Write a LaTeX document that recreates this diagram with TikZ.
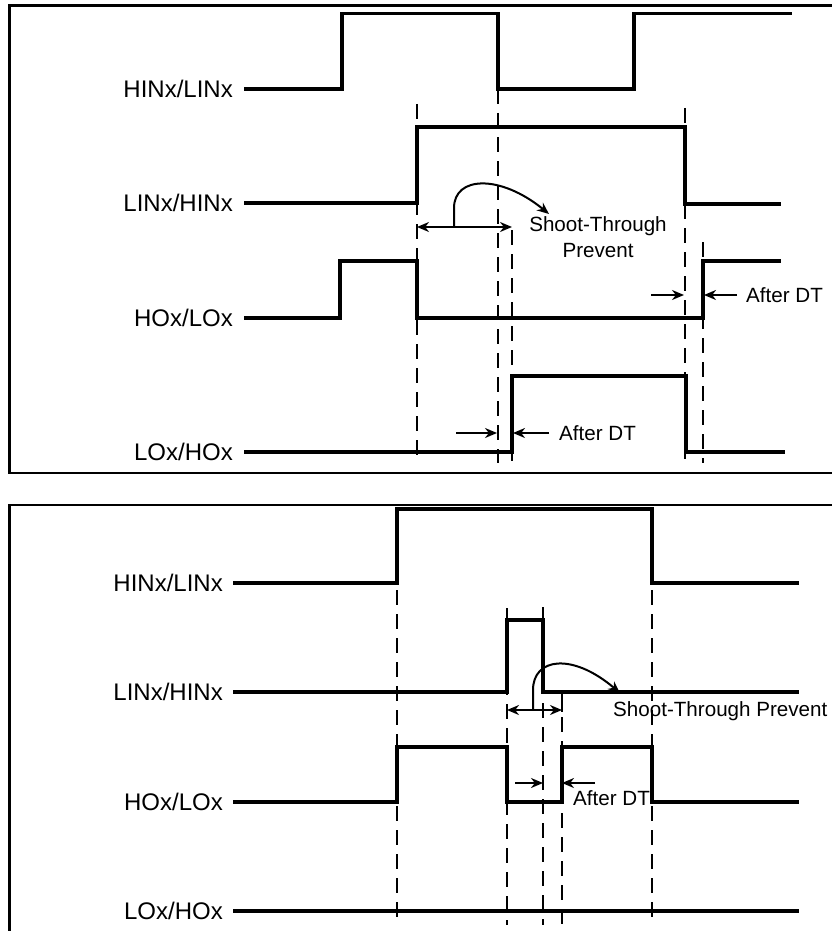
\documentclass[tikz,border=0pt]{standalone}
\usepackage{fontspec}
\setmainfont{Liberation Sans}
\usetikzlibrary{arrows.meta}
\tikzset{
  sig/.style={line width=3.8pt, line join=miter},
  frame/.style={line width=2.8pt},
  guide/.style={line width=2.1pt, dash pattern=on 15pt off 9pt},
  dim/.style={line width=2pt},
  tipR/.style={-{Stealth[length=12pt,width=10pt]}},
  tipLR/.style={{Stealth[length=12pt,width=10pt]}-{Stealth[length=12pt,width=10pt]}},
  lbl/.style={font=\fontsize{24}{28}\selectfont, inner sep=0pt, anchor=east},
  note/.style={font=\fontsize{20.6}{26}\selectfont, inner sep=0pt}
}
\begin{document}
\begin{tikzpicture}[x=1pt,y=-1pt]
\useasboundingbox (0,0) rectangle (832,931);
\clip (0,0) rectangle (832,931);
% frames
\draw[frame] (9.5,5.7) rectangle (850,473);
\draw[frame] (9.5,505) rectangle (850,960);

% ---------- top panel ----------
\node[lbl] (ta) at (233,89) {HINx/LINx};
\node[lbl] (tb) at (233,203) {LINx/HINx};
\node[lbl] (tc) at (233,318) {HOx/LOx};
\node[lbl] (td) at (233,452) {LOx/HOx};

\draw[guide] (417,104) -- (417,463);
\draw[guide] (498,89) -- (498,463);
\draw[guide] (512,230) -- (512,463);
\draw[guide] (685,108) -- (685,463);
\draw[guide] (703,242) -- (703,463);

\draw[sig] (244,89) -- (342,89) -- (342,13.5) -- (498,13.5) -- (498,89) -- (634,89) -- (634,13.5) -- (792,13.5);
\draw[sig] (244,203) -- (417,203) -- (417,127) -- (685,127) -- (685,204) -- (781,204);
\draw[sig] (244,318) -- (340,318) -- (340,261) -- (417,261) -- (417,318) -- (703,318) -- (703,261) -- (781,261);
\draw[sig] (244,452) -- (512,452) -- (512,376) -- (686,376) -- (686,452) -- (785,452);

% shoot-through annotation
\coordinate (s1) at (417,227);
\coordinate (s2) at (512,227);
\draw[dim,tipLR] (s1) -- (s2);
\coordinate (c0) at (454,227);
\coordinate (c1) at (549,214);
\draw[dim,tipR] (c0) -- (454,208) .. controls (454,176) and (500,174) .. (c1);
\node[note, align=center] (tst) at (598,237) {Shoot-Through\\Prevent};

% after DT arrows (upper)
\coordinate (d1a) at (651,295); \coordinate (d1b) at (684,295);
\coordinate (d2a) at (737,295); \coordinate (d2b) at (704,295);
\draw[dim,tipR] (d1a) -- (d1b);
\draw[dim,tipR] (d2a) -- (d2b);
\node[note, anchor=west] (tdt1) at (746,295) {After DT};

% after DT arrows (lower)
\coordinate (d3a) at (456,433); \coordinate (d3b) at (497,433);
\coordinate (d4a) at (549,433); \coordinate (d4b) at (513,433);
\draw[dim,tipR] (d3a) -- (d3b);
\draw[dim,tipR] (d4a) -- (d4b);
\node[note, anchor=west] (tdt2) at (559,433) {After DT};

% ---------- bottom panel ----------
\node[lbl] (ba) at (223,583) {HINx/LINx};
\node[lbl] (bb) at (223,692) {LINx/HINx};
\node[lbl] (bc) at (223,802) {HOx/LOx};
\node[lbl] (bd) at (223,911) {LOx/HOx};

\draw[guide] (397,590) -- (397,922);
\draw[guide] (507,608) -- (507,925);
\draw[guide] (543,607) -- (543,925);
\draw[guide] (562,693) -- (562,925);
\draw[guide] (652,590) -- (652,922);
\draw[dim] (562,692) -- (562,712);

\draw[sig] (233,583) -- (397,583) -- (397,509) -- (652,509) -- (652,583) -- (799,583);
\draw[sig] (233,692) -- (507,692) -- (507,620) -- (543,620) -- (543,692) -- (799,692);
\draw[sig] (233,802) -- (397,802) -- (397,747) -- (507,747) -- (507,802) -- (562,802) -- (562,747) -- (652,747) -- (652,802) -- (799,802);
\draw[sig] (233,911) -- (799,911);

\coordinate (b1) at (507,710);
\coordinate (b2) at (562,710);
\draw[dim,tipLR] (b1) -- (b2);
\coordinate (e0) at (533,710);
\coordinate (e1) at (620,693);
\draw[dim,tipR] (e0) -- (533,690) .. controls (533,658) and (572,652) .. (e1);
\node[note, anchor=west] (bst) at (613,711) {Shoot-Through Prevent};

\coordinate (f1a) at (515,783); \coordinate (f1b) at (543,783);
\coordinate (f2a) at (595,783); \coordinate (f2b) at (562,783);
\draw[dim,tipR] (f1a) -- (f1b);
\draw[dim,tipR] (f2a) -- (f2b);
\node[note, anchor=west] (bdt) at (573,798) {After DT};
\end{tikzpicture}
\end{document}
